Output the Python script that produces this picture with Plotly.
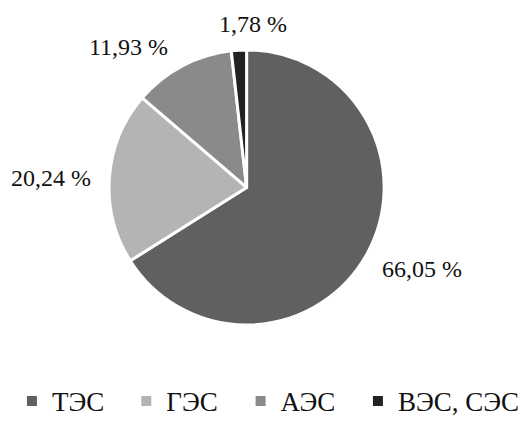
import plotly.graph_objects as go

labels = ["ТЭС", "ГЭС", "АЭС", "ВЭС, СЭС"]
values = [66.05, 20.24, 11.93, 1.78]
colors = ["#606060", "#b4b4b4", "#8a8a8a", "#222222"]

FONT = "Liberation Serif"

fig = go.Figure(go.Pie(
    labels=labels,
    values=values,
    sort=False,
    direction="clockwise",
    rotation=0,
    marker=dict(colors=colors, line=dict(color="white", width=3)),
    textinfo="none",
    showlegend=False,
    domain=dict(x=[0.2048, 0.7400], y=[0.2207, 0.8803]),
    hoverinfo="label+value",
))

# percentage labels placed outside the slices
label_px = [(424, 275), (51, 182), (129, 48), (254, 25)]
for v, (px, py) in zip(values, label_px):
    txt = f"{v:.2f}".replace(".", ",") + " %"
    fig.add_annotation(
        x=px / 525, y=1 - py / 426, xref="paper", yref="paper",
        text=txt, showarrow=False, xanchor="center", yanchor="middle",
        font=dict(family=FONT, size=24, color="#111111"),
    )

# legend entries (one legend per entry to reproduce the reference spacing)
legend_left_px = [12, 127, 242, 360]
legend_names = ["legend", "legend2", "legend3", "legend4"]
for lab, col, lg in zip(labels, colors, legend_names):
    fig.add_trace(go.Scatter(
        x=[None], y=[None], mode="markers", name=lab, legend=lg,
        marker=dict(symbol="square", size=10, color=col),
        showlegend=True, hoverinfo="skip",
    ))

legend_style = dict(
    orientation="h", xanchor="left", y=1 - 410 / 426, yanchor="middle",
    font=dict(family=FONT, size=27, color="#111111"),
    bgcolor="rgba(0,0,0,0)", itemwidth=30,
)
layout_legends = {lg: dict(x=lx / 525, **legend_style)
                  for lg, lx in zip(legend_names, legend_left_px)}

fig.update_layout(
    width=525, height=426,
    margin=dict(l=0, r=0, t=0, b=0),
    paper_bgcolor="white",
    plot_bgcolor="white",
    xaxis=dict(visible=False),
    yaxis=dict(visible=False),
    **layout_legends,
)

fig.write_html("out.html")
